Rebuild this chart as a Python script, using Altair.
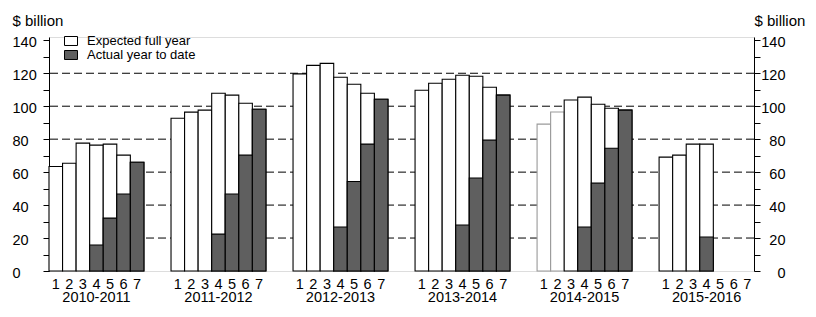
import altair as alt
import pandas as pd

years = ["2010-2011", "2011-2012", "2012-2013", "2013-2014", "2014-2015", "2015-2016"]
bars = [1, 2, 3, 4, 5, 6, 7]
expected = [
    [63.4, 65.4, 77.6, 76.4, 77.0, 70.3, 66.0],
    [92.7, 96.4, 97.6, 107.9, 106.7, 101.8, 98.2],
    [119.6, 124.8, 126.0, 117.6, 113.3, 107.9, 104.2],
    [109.7, 113.9, 116.4, 118.8, 118.2, 111.5, 106.7],
    [89.1, 96.5, 103.8, 105.5, 101.2, 98.8, 97.6],
    [69.1, 70.3, 77.0, 77.0, None, None, None],
]
actual = [
    [None, None, None, 15.8, 32.1, 46.7, 66.0],
    [None, None, None, 22.4, 46.7, 70.3, 98.2],
    [None, None, None, 26.7, 54.3, 77.0, 104.2],
    [None, None, None, 27.9, 56.4, 79.4, 106.7],
    [None, None, None, 26.7, 53.3, 74.5, 97.6],
    [None, None, None, 20.6, None, None, None],
]
grid_values = [20, 40, 60, 80, 100, 120]
tick_values = list(range(0, 141, 10))
series_names = ["Expected full year", "Actual year to date"]

rows = []
slots = []
for gi, yr in enumerate(years):
    for bi, b in enumerate(bars):
        slots.append({"year": yr, "gi": gi, "bar": b})
        for sname, arr in zip(series_names, [expected, actual]):
            v = arr[gi][bi]
            if v is not None:
                rows.append({"year": yr, "gi": gi, "bar": b, "series": sname, "value": v})
df = pd.DataFrame(rows)
slots_df = pd.DataFrame(slots)
years_df = pd.DataFrame({"year": years, "gi": list(range(len(years)))})
grid_df = pd.DataFrame({"v": grid_values})

W, H = 705, 234
FONT = "Liberation Sans"

xscale = alt.Scale(domain=[0, 52], nice=False, zero=False)
yscale = alt.Scale(domain=[0, 142], nice=False, zero=True)
fillscale = alt.Scale(domain=series_names, range=["white", "#5f5f5f"])

left_axis = alt.Axis(
    orient="left", values=tick_values, grid=False, tickSize=6, tickColor="black",
    domainColor="black", labelExpr="datum.value % 20 == 0 ? datum.label : ''",
    labelFont=FONT, labelFontSize=14.5, labelColor="black", labelAlign="left",
    labelPadding=31, labelOffset=2, title="$ billion", titleAngle=0, titleX=-37, titleY=-11.5,
    titleAlign="left", titleBaseline="alphabetic", titleFont=FONT, titleFontSize=15,
    titleFontWeight="normal", titleColor="black",
)
right_axis = alt.Axis(
    orient="right", values=tick_values, grid=False, tickSize=6, tickColor="black",
    domainColor="black", labelExpr="datum.value % 20 == 0 ? datum.label : ''",
    labelFont=FONT, labelFontSize=14.5, labelColor="black", labelAlign="right",
    labelPadding=25, labelOffset=2, title="$ billion", titleAngle=0, titleX=0, titleY=-11.5,
    titleAlign="left", titleBaseline="alphabetic", titleFont=FONT, titleFontSize=15,
    titleFontWeight="normal", titleColor="black",
)
x_axis = alt.Axis(
    values=[0, 52], labels=False, ticks=False, grid=False, domainColor="black", title=None,
)

grid = alt.Chart(grid_df).mark_rule(color="black", strokeWidth=1, strokeDash=[8, 4]).encode(
    y=alt.Y("v:Q", scale=yscale, axis=None)
)

base = alt.Chart(df).transform_calculate(
    x0="datum.gi * 9 + datum.bar - 1", x1="datum.gi * 9 + datum.bar"
)

exp_bars = base.transform_filter(alt.datum.series == series_names[0]).mark_rect(strokeWidth=1.1).encode(
    x=alt.X("x0:Q", scale=xscale, axis=x_axis),
    x2="x1:Q",
    y=alt.Y("value:Q", scale=yscale, axis=left_axis),
    y2=alt.datum(0),
    fill=alt.Fill("series:N", scale=fillscale, legend=alt.Legend(
        title=None, orient="none", legendX=15, legendY=-3, symbolType="M-1,-0.69L1,-0.69L1,0.69L-1,0.69Z",
        symbolSize=169, symbolStrokeColor="black", symbolStrokeWidth=1, labelFont=FONT,
        labelFontSize=13, labelColor="black", labelOffset=9, rowPadding=-1, padding=0,
    )),
    stroke=alt.condition(
        "datum.year == '2014-2015' && datum.bar <= 2", alt.value("#9a9a9a"), alt.value("black")
    ),
)

act_bars = base.transform_filter(alt.datum.series == series_names[1]).mark_rect(
    stroke="black", strokeWidth=1.1
).encode(
    x=alt.X("x0:Q", scale=xscale, axis=None),
    x2="x1:Q",
    y=alt.Y("value:Q", scale=yscale, axis=right_axis),
    y2=alt.datum(0),
    fill=alt.Fill("series:N", scale=fillscale),
)

bar_text = alt.Chart(slots_df).transform_calculate(xc="datum.gi * 9 + datum.bar - 0.5").mark_text(
    font=FONT, fontSize=14.5, color="black", baseline="alphabetic", align="center"
).encode(
    x=alt.X("xc:Q", scale=xscale, axis=None),
    y=alt.value(252.3),
    text="bar:N",
)

year_text = alt.Chart(years_df).transform_calculate(xc="datum.gi * 9 + 3.5").mark_text(
    font=FONT, fontSize=14.5, color="black", baseline="alphabetic", align="center"
).encode(
    x=alt.X("xc:Q", scale=xscale, axis=None),
    y=alt.value(264.7),
    text="year:N",
)

chart = alt.layer(grid, exp_bars, act_bars, bar_text, year_text).resolve_axis(y="independent").properties(
    width=W, height=H,
    padding={"left": 49, "top": 37, "right": 62, "bottom": 46},
    autosize=alt.AutoSizeParams(type="none"),
).configure_view(stroke=None).configure(background="white")

chart.save("out.html", embed_options={"renderer": "svg", "actions": False})
